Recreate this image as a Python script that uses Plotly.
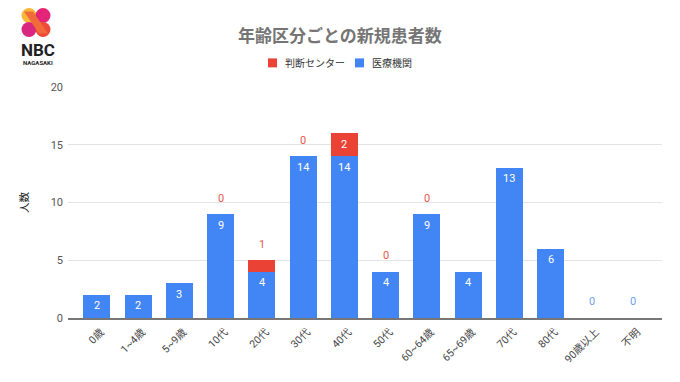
import plotly.graph_objects as go

categories = ["0歳", "1~4歳", "5~9歳", "10代", "20代", "30代", "40代", "50代",
              "60~64歳", "65~69歳", "70代", "80代", "90歳以上", "不明"]
iryo_kikan = [2, 2, 3, 9, 4, 14, 14, 4, 9, 4, 13, 6, 0, 0]
handan_center = [None, None, None, 0, 1, 0, 2, 0, 0, None, None, None, None, None]
y_ticks = [0, 5, 10, 15, 20]

BLUE = "#4285F4"
RED = "#EA4335"
FONT = "Roboto, 'Noto Sans CJK JP', sans-serif"
JP = "'Noto Sans CJK JP', sans-serif"

L, R, T, B = 68, 18, 86.7, 63.5
PW, PH = 680 - L - R, 382 - T - B


def px2paper(xp, yp):
    return (xp - L) / PW, (382 - B - yp) / PH


fig = go.Figure()
fig.add_trace(go.Bar(x=categories, y=iryo_kikan, name="医療機関",
                     marker=dict(color=BLUE, line=dict(width=0)), showlegend=False))
fig.add_trace(go.Bar(x=categories, y=[v if v is not None else 0 for v in handan_center],
                     name="判断センター", marker=dict(color=RED, line=dict(width=0)),
                     showlegend=False))

ann = []
for c, b, r in zip(categories, iryo_kikan, handan_center):
    if b > 0:
        ann.append(dict(x=c, y=b, yshift=-11, text=str(b), showarrow=False,
                        font=dict(color="white", size=11, family=FONT)))
    else:
        ann.append(dict(x=c, y=0, yshift=17, text=str(b), showarrow=False,
                        font=dict(color="#6F9FF0", size=11, family=FONT)))
    if r is not None:
        if r >= 2:
            ann.append(dict(x=c, y=b + r / 2, text=str(r), showarrow=False,
                            font=dict(color="white", size=11, family=FONT)))
        else:
            ann.append(dict(x=c, y=b + r, yshift=16, text=str(r), showarrow=False,
                            font=dict(color="#E5594B", size=11, family=FONT)))

# title
tx, ty = px2paper(340, 34)
ann.append(dict(xref="paper", yref="paper", x=tx, y=ty, xanchor="center", yanchor="middle",
                text="<b>年齢区分ごとの新規患者数</b>", showarrow=False,
                font=dict(size=17, color="#757575", family=JP)))
# manual legend
legend_items = [("判断センター", RED, 268), ("医療機関", BLUE, 355)]
shapes = []
for name, col, px in legend_items:
    x0, y0 = px2paper(px, 67)
    x1, y1 = px2paper(px + 9, 58)
    shapes.append(dict(type="rect", xref="paper", yref="paper",
                       x0=x0, x1=x1, y0=y0, y1=y1, fillcolor=col, line=dict(width=0)))
    ax_, ay_ = px2paper(px + 15, 62.5)
    ann.append(dict(xref="paper", yref="paper", x=ax_, y=ay_, xanchor="left", yanchor="middle",
                    text=name, showarrow=False,
                    font=dict(size=10, color="#333", family=JP)))

# logo (NBC NAGASAKI)
logo = [((29, 15), "#F8B739"), ((43, 15), "#E42478"), ((29, 29), "#D9267E"), ((43, 29), "#EE4A3A")]
for (cx, cy), col in logo:
    x0, y0 = px2paper(cx - 7.5, cy + 7.5)
    x1, y1 = px2paper(cx + 7.5, cy - 7.5)
    shapes.append(dict(type="circle", xref="paper", yref="paper", x0=x0, y0=y0, x1=x1, y1=y1,
                       fillcolor=col, line=dict(width=0), layer="above"))
pa = px2paper(24, 11)
pb = px2paper(33, 11)
pc = px2paper(48, 33)
pd = px2paper(39, 33)
shapes.append(dict(type="path", xref="paper", yref="paper",
                   path=f"M {pa[0]},{pa[1]} L {pb[0]},{pb[1]} L {pc[0]},{pc[1]} L {pd[0]},{pd[1]} Z",
                   fillcolor="#F06A3A", line=dict(width=0), layer="above"))
lx, ly = px2paper(38, 50)
ann.append(dict(xref="paper", yref="paper", x=lx, y=ly, xanchor="center", yanchor="middle",
                text="<b>NBC</b>", showarrow=False,
                font=dict(size=17, color="#222", family="Roboto, sans-serif")))
lx, ly = px2paper(38, 62)
ann.append(dict(xref="paper", yref="paper", x=lx, y=ly, xanchor="center", yanchor="middle",
                text="<b>NAGASAKI</b>", showarrow=False,
                font=dict(size=6, color="#222", family="Roboto, sans-serif")))

fig.update_layout(
    width=680, height=382,
    margin=dict(l=L, r=R, t=T, b=B),
    barmode="stack", bargap=0.345,
    plot_bgcolor="white", paper_bgcolor="white",
    font=dict(family=FONT, color="#444", size=11),
    annotations=ann, shapes=shapes,
    xaxis=dict(range=[-0.7, 13.7], tickangle=-45, tickfont=dict(size=10.5, color="#444"),
               showgrid=False, showline=True, linecolor="#777", linewidth=1.5,
               ticks="", ticklabelshift=4, ticklabelstandoff=2, fixedrange=True),
    yaxis=dict(range=[0, 20], tickvals=y_ticks, gridcolor="#E3E3E3", zeroline=False,
               ticks="", ticklabelstandoff=4, fixedrange=True,
               tickfont=dict(size=11, color="#555"),
               title=dict(text="人数", font=dict(size=10.5, color="#222"), standoff=19)),
)
fig.write_html("out.html", config={"displayModeBar": False},
               post_script="document.body.style.margin='0';")
